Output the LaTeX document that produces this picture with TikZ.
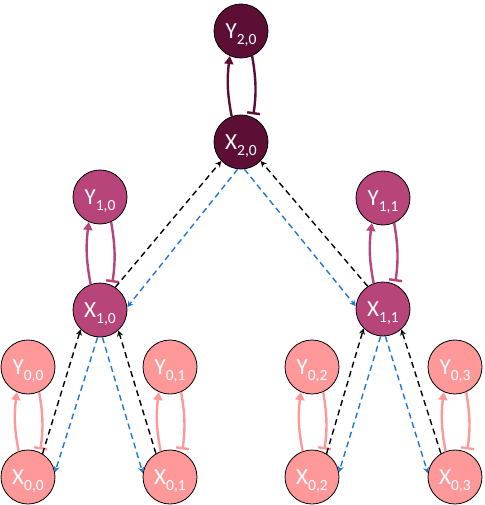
\documentclass[tikz,border=0pt]{standalone}
\usepackage{fontspec}
\setmainfont{Carlito}
\usetikzlibrary{arrows.meta}
\definecolor{lvlA}{RGB}{255,153,153}
\definecolor{lvlB}{RGB}{184,69,122}
\definecolor{lvlC}{RGB}{92,14,52}
\definecolor{blueline}{RGB}{30,120,210}
\newcommand\lab[1]{\raisebox{-6pt}[0pt][0pt]{\fontsize{15.5}{15.5}\selectfont #1}}
\tikzset{
  vnode/.style={circle, draw=black, line width=0.8pt, minimum size=54pt, inner sep=0pt,
    text=white, font=\fontsize{23}{23}\selectfont},
  up/.style={line width=2.4pt, -{Triangle[length=8pt,width=9pt]}, bend left=9},
  tee/.style={line width=2.4pt, -{Bar[width=13pt,line width=2.4pt]}, bend left=9, shorten >=3pt},
  blk/.style={black, line width=1.4pt, dash pattern=on 6pt off 4pt, -{Stealth[length=6pt,width=6pt]}},
  blu/.style={blueline, line width=1.4pt, dash pattern=on 6pt off 4pt, -{Stealth[length=6pt,width=6pt]}},
}
\begin{document}
\begin{tikzpicture}[x=1pt,y=-1pt]
\useasboundingbox (0,0) rectangle (484,505);
% level 2
\node[vnode, fill=lvlC] (Y20) at (241,31) {Y\lab{2,0}};
\node[vnode, fill=lvlC] (X20) at (241,142) {X\lab{2,0}};
% level 1
\node[vnode, fill=lvlB] (Y10) at (100,197) {Y\lab{1,0}};
\node[vnode, fill=lvlB] (X10) at (100,310) {X\lab{1,0}};
\node[vnode, fill=lvlB] (Y11) at (383,198) {Y\lab{1,1}};
\node[vnode, fill=lvlB] (X11) at (383,309) {X\lab{1,1}};
% level 0
\node[vnode, fill=lvlA] (Y00) at (28,367) {Y\lab{0,0}};
\node[vnode, fill=lvlA] (X00) at (28,477) {X\lab{0,0}};
\node[vnode, fill=lvlA] (Y01) at (170,367) {Y\lab{0,1}};
\node[vnode, fill=lvlA] (X01) at (170,477) {X\lab{0,1}};
\node[vnode, fill=lvlA] (Y02) at (312,367) {Y\lab{0,2}};
\node[vnode, fill=lvlA] (X02) at (312,477) {X\lab{0,2}};
\node[vnode, fill=lvlA] (Y03) at (455,367) {Y\lab{0,3}};
\node[vnode, fill=lvlA] (X03) at (455,477) {X\lab{0,3}};
% X <-> Y pairs
\foreach \a/\c in {20/lvlC,10/lvlB,11/lvlB,00/lvlA,01/lvlA,02/lvlA,03/lvlA}{
  \draw[up, \c] (X\a.110) to (Y\a.-114);
  \draw[tee, \c] (Y\a.-66) to (X\a.64);
}
% level 1 <-> level 2
\draw[blk] (X10.56) -- (X20.-136);
\draw[blu] (X20.-97) -- (X10.6);
\draw[blk] (X11.124) -- (X20.-44);
\draw[blu] (X20.-83) -- (X11.174);
% level 0 <-> level 1
\draw[blk] (X00.58) -- (X10.-135);
\draw[blu] (X10.-95) -- (X00.10);
\draw[blk] (X01.121) -- (X10.-48);
\draw[blu] (X10.-85) -- (X01.172);
\draw[blk] (X02.58) -- (X11.-135);
\draw[blu] (X11.-95) -- (X02.10);
\draw[blk] (X03.121) -- (X11.-48);
\draw[blu] (X11.-85) -- (X03.172);
\end{tikzpicture}
\end{document}
